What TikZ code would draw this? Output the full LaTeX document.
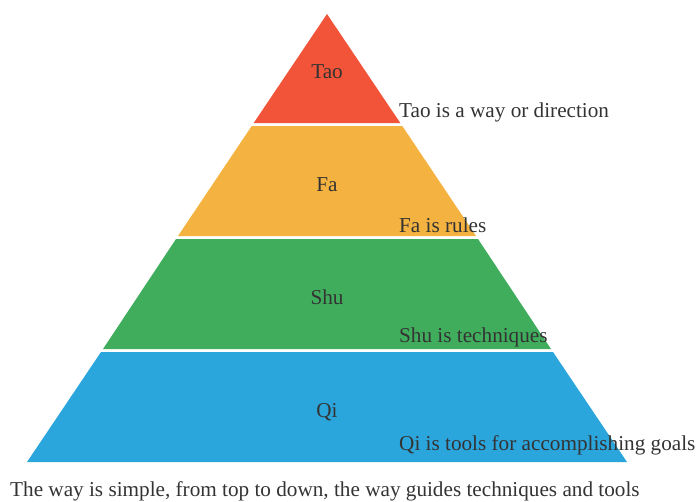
\documentclass[tikz,border=0pt]{standalone}
\usepackage{fontspec}
\setmainfont{Liberation Serif}
\definecolor{taoc}{RGB}{241,84,56}
\definecolor{fac}{RGB}{244,179,64}
\definecolor{shuc}{RGB}{64,173,93}
\definecolor{qic}{RGB}{43,166,221}
\definecolor{txt}{RGB}{51,51,51}
\begin{document}
\begin{tikzpicture}[x=1pt,y=-1pt,
  lab/.style={text=txt,font=\fontsize{21.2}{24}\selectfont,inner sep=0pt},
  side/.style={lab,anchor=base west},
  mid/.style={lab,anchor=base}]
\useasboundingbox (0,0) rectangle (700,501);
% layers: apex (327,14), base y=462, half width 300
\fill[taoc] (327,14) -- (400.3,123) -- (253.7,123) -- cycle;
\fill[fac] (402.3,126) -- (476,236) -- (178,236) -- (251.7,126) -- cycle;
\fill[shuc] (478,239) -- (551,349) -- (103,349) -- (176,239) -- cycle;
\fill[qic] (553,352) -- (627,462) -- (27,462) -- (101,352) -- cycle;
\node[mid] (tao) at (327,78) {Tao};
\node[mid] (fa) at (327,191) {Fa};
\node[mid] (shu) at (327,304) {Shu};
\node[mid] (qi) at (327,417) {Qi};
\node[side] (taod) at (399,117) {Tao is a way or direction};
\node[side] (fad) at (399,232) {Fa is rules};
\node[side] (shud) at (399,342) {Shu is techniques};
\node[side] (qid) at (399,450) {Qi is tools for accomplishing goals};
\node[side] (note) at (10,496) {The way is simple, from top to down, the way guides techniques and tools};
\end{tikzpicture}
\end{document}
